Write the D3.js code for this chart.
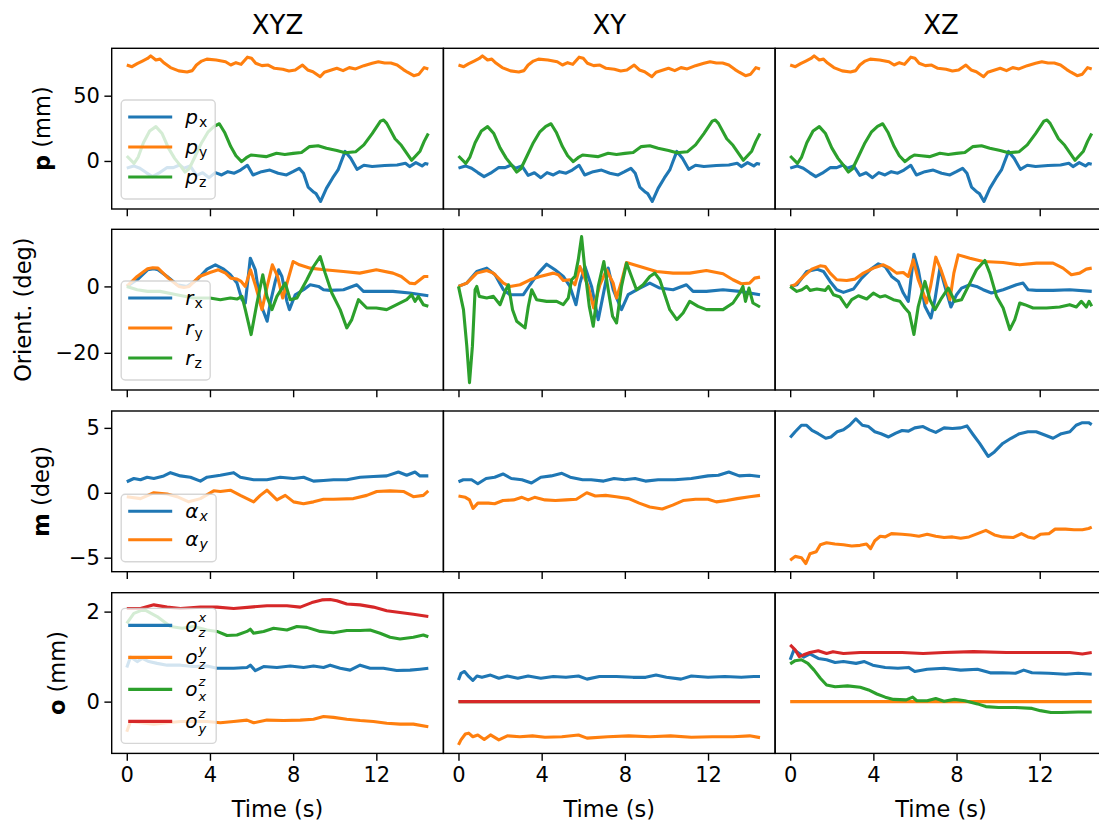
<!DOCTYPE html>
<html>
<head>
<meta charset="utf-8">
<script src="https://cdn.jsdelivr.net/npm/d3@7"></script>
<style>
  body { margin: 0; background: #fff; }
  svg { display: block; }
  text { font-family: "DejaVu Sans", sans-serif; fill: #000; }
</style>
</head>
<body>
<svg id="fig" width="1099" height="825"></svg>
<script>
// ---------- column / axis settings ----------
const columnTitles = ["XYZ", "XY", "XZ"];
const timeTicks = [0, 4, 8, 12];
const timeDomain = [-0.725, 15.225];
const rowDomains = [[-36.8, 86.3], [-31.2, 17.2], [-6.08, 6.3], [-1.15, 2.42]];
const rowTicks = [[0, 50], [-20, 0], [-5, 0, 5], [0, 2]];
const palette = ["#1f77b4", "#ff7f0e", "#2ca02c", "#d62728"];

// ---------- position p (mm), same trajectory in every column ----------
const posX = [[0,-5.5],[0.33,-3.8],[0.63,-5.6],[0.93,-8.9],[1.23,-12],[1.54,-9.4],[1.94,-5],[2.24,-5.1],[2.54,-3.1],[2.75,-5.6],[3.05,-3.8],[3.35,-11],[3.65,-9],[3.96,-12.8],[4.26,-8.9],[4.56,-10.7],[4.86,-8.2],[5.17,-9.4],[5.47,-7],[5.8,-3.3],[6.07,-10.7],[6.48,-8.2],[6.88,-7],[7.28,-9.4],[7.68,-10.7],[7.99,-8.2],[8.29,-5.6],[8.5,-9.5],[8.72,-20],[9.0,-24],[9.1,-25],[9.32,-31],[9.6,-21],[9.9,-13],[10.16,-6.9],[10.3,-1],[10.5,7.3],[10.77,2],[11.07,-6.4],[11.4,-3.3],[11.8,-4.3],[12.4,-3.5],[13.0,-3.1],[13.4,-1.8],[13.6,-4.3],[13.9,-1.3],[14.2,-3.8],[14.35,-2],[14.5,-2.6]];
const posY = [[0,73.5],[0.25,72.2],[0.5,74.5],[0.75,76.5],[1.0,78.5],[1.15,80.5],[1.4,77.3],[1.6,78],[1.8,75],[2.1,71.5],[2.5,69],[2.9,68.2],[3.15,69.2],[3.35,73.5],[3.6,76.5],[3.85,78],[4.3,77.3],[4.75,76],[5.0,73.5],[5.25,75.3],[5.5,74],[5.8,79.5],[6.0,78.6],[6.2,74.8],[6.5,73],[6.8,73.5],[7.1,71],[7.5,70.2],[7.8,68.9],[8.1,69.7],[8.45,73.5],[8.7,69.7],[8.95,68.4],[9.3,64.5],[9.5,68],[9.8,69.5],[10.1,71],[10.4,69.2],[10.7,71.5],[11.0,70.5],[11.4,73],[11.8,74.8],[12.1,76],[12.4,75],[12.7,75],[13.0,73.5],[13.3,70],[13.5,68],[13.8,65.3],[14.05,66.5],[14.3,71.5],[14.5,70.5]];
const posZ = [[0,3.8],[0.35,-1.8],[0.55,3],[0.8,14],[1.1,23],[1.4,26.3],[1.7,21],[2.0,10],[2.3,2],[2.55,-3],[2.8,-8.5],[3.0,-6],[3.3,4],[3.6,14],[3.9,22],[4.2,26.5],[4.45,28.5],[4.7,22],[5.0,11],[5.25,4],[5.52,-0.5],[5.75,2.5],[5.97,4.6],[6.3,4],[6.7,3.3],[7.2,5.9],[7.6,5],[8.0,5.8],[8.4,6.5],[8.79,11],[9.2,11.7],[9.6,9.7],[10.1,8],[10.5,6.3],[11.0,7],[11.4,12.3],[11.8,21],[12.2,30.5],[12.35,31.4],[12.5,28.8],[12.9,17],[13.2,12],[13.7,0.5],[14.1,7.5],[14.3,15],[14.5,21]];

// ---------- orientation (deg) ----------
const rotX_xyz = [[0,0],[0.5,2],[1.0,5],[1.3,5.3],[1.5,5],[1.94,3],[2.42,0.5],[2.9,0],[3.38,2],[3.86,5.2],[4.26,6.5],[4.66,5.2],[4.98,3.5],[5.3,1],[5.54,-4],[5.7,-5],[5.94,8.5],[6.18,5],[6.42,-5],[6.75,-10.5],[6.9,-5],[7.14,1.5],[7.3,5],[7.46,3],[7.7,-4.5],[7.82,-7],[8.1,-2.5],[8.5,-1],[8.82,0.5],[9.22,0],[9.46,-1],[9.78,-1.2],[10.42,-1],[11.06,0.5],[11.38,-1.5],[12.0,-1.5],[12.8,-1.5],[13.6,-2],[14.5,-2.8]];
const rotY_xyz = [[0,0],[0.5,3],[1.0,5.3],[1.25,5.6],[1.5,5.5],[2.0,2.5],[2.5,0],[2.75,-0.3],[3.0,0],[3.5,3],[4.0,4.2],[4.4,5],[4.75,4],[5.0,2.5],[5.3,2.2],[5.5,1.5],[5.7,0],[5.95,5],[6.2,0],[6.5,-7],[6.75,0],[7.0,6.5],[7.25,3],[7.5,-3.5],[7.75,2],[8.0,7.5],[8.3,6.5],[8.82,5.5],[9.5,5],[10.42,4.5],[11.2,4],[12.0,5],[12.8,4],[13.2,3],[13.6,1],[13.85,0.8],[14.1,2],[14.3,3],[14.5,3]];
const rotZ_xyz = [[0,0],[0.5,-1],[1.0,-1.5],[1.6,-1.5],[2.4,-2.5],[3.2,-3.5],[4.0,-3.5],[4.5,-4],[4.98,-3.5],[5.3,-3.8],[5.54,-3],[5.7,-7],[5.98,-14.5],[6.26,-5],[6.54,3.5],[6.74,-3],[6.98,-7],[7.22,-3],[7.62,1],[7.86,-4],[8.18,-3.5],[8.66,2],[8.98,6],[9.3,9],[9.54,4],[9.86,-2],[10.26,-7],[10.58,-12.5],[10.82,-10],[11.14,-4],[11.54,-6.5],[12.0,-6.5],[12.5,-7],[12.98,-5.5],[13.46,-4],[13.7,-2.5],[13.86,-4.5],[14.02,-3],[14.26,-5.5],[14.5,-6]];

const rotX_xy = [[0,0],[0.4,1],[0.88,4.5],[1.36,5.5],[1.76,3.5],[2.16,-1],[2.48,-2.5],[3.12,-2.5],[3.44,0.5],[3.84,4],[4.24,6.7],[4.64,5],[5.04,3],[5.36,0],[5.65,-5.5],[5.84,1],[6.08,6],[6.4,0],[6.72,-10],[7.04,0],[7.2,5.5],[7.44,-1],[7.84,-7],[8.16,-2.5],[8.72,-0.5],[9.2,1],[9.68,-0.5],[10.32,-1],[10.96,0.5],[11.28,-1.5],[11.92,-1.5],[12.72,-1],[13.52,-1.5],[14.5,-2.5]];
const rotY_xy = [[0,0],[0.4,1],[0.88,4],[1.36,4.8],[1.68,4],[2.16,1],[2.48,0],[2.96,0.5],[3.44,2],[3.92,3],[4.56,4],[4.8,3.5],[5.04,1.8],[5.36,2],[5.6,0.5],[5.84,6],[6.24,0],[6.5,-6.5],[6.8,0.5],[7.12,5],[7.44,1],[7.6,-3.5],[7.84,1.5],[8.08,7.2],[8.72,6],[9.52,4.5],[10.32,4],[11.12,4],[11.92,4.8],[12.72,3.8],[13.2,2],[13.6,0.8],[14.0,1],[14.24,2.5],[14.5,2.8]];
const rotZ_xy = [[0,0],[0.24,-7],[0.4,-18],[0.53,-29],[0.67,-18],[0.8,-1],[0.88,0],[1.0,-3],[1.36,-3.5],[1.68,-3],[2.0,-5.5],[2.24,-1.5],[2.4,0.5],[2.6,-7],[2.8,-10.5],[3.2,-12.5],[3.36,-6],[3.52,-1],[3.76,-4],[4.24,-4.5],[4.72,-4.5],[5.04,-5.5],[5.28,-3.5],[5.44,2],[5.6,3],[5.76,8],[5.92,15],[6.08,5],[6.29,-6],[6.48,-12],[6.72,0],[6.99,7.5],[7.2,-1],[7.41,-9],[7.6,-11],[7.84,0],[8.08,7],[8.32,3],[8.56,-1],[8.88,0.5],[9.2,3],[9.44,4],[9.68,2],[10.16,-7],[10.5,-10],[10.8,-8],[11.12,-4.5],[11.52,-6],[11.92,-7],[12.72,-7],[13.2,-5],[13.52,-2],[13.68,0],[13.8,-4.5],[13.97,-0.5],[14.16,-5],[14.5,-6.2]];

const rotX_xz = [[0,0],[0.32,0.5],[0.8,4.5],[1.28,5.2],[1.6,4.5],[1.92,1.5],[2.24,-1],[2.56,-1.8],[3.04,-0.8],[3.44,2.5],[3.84,5],[4.24,6.8],[4.56,6],[4.88,3],[5.2,1.5],[5.44,-2],[5.68,-4.5],[5.95,9.7],[6.16,5],[6.48,-6],[6.77,-9.5],[6.96,-4],[7.2,5.5],[7.44,0],[7.73,-6.2],[8.0,-2.5],[8.24,-0.5],[8.64,0.5],[8.96,0],[9.28,-1],[9.68,-2],[10.24,-1],[10.88,0.5],[11.2,1],[11.44,-1],[11.84,-1.2],[12.64,-1.2],[13.44,-1],[14.5,-1.5]];
const rotY_xz = [[0,0],[0.24,0.5],[0.64,3],[1.04,5.2],[1.44,6.2],[1.68,6],[1.92,4],[2.24,2],[2.72,1.8],[3.12,2.2],[3.52,4],[4.0,5.5],[4.48,6.5],[4.8,5.5],[5.12,4],[5.44,4.2],[5.68,3],[5.92,8],[6.16,2],[6.4,-2],[6.56,-5],[6.75,0],[7.0,8.8],[7.25,5],[7.52,0],[7.68,-4],[7.87,4],[8.08,9.5],[8.64,8.5],[9.28,7.5],[10.24,7.2],[11.04,6.5],[11.84,7],[12.64,7],[13.12,5.5],[13.52,3.5],[13.92,4],[14.24,5.2],[14.5,5.5]];
const rotZ_xz = [[0,0],[0.32,-1.5],[0.56,-1],[0.8,0],[0.96,-1.2],[1.28,-0.8],[1.68,-1.2],[1.84,0],[2.08,-2.5],[2.4,-3.2],[2.72,-6.2],[2.96,-4],[3.28,-2.8],[3.68,-3.8],[4.0,-2],[4.32,-3.2],[4.56,-2.8],[4.96,-4],[5.28,-4.5],[5.52,-6.5],[5.73,-8],[5.95,-14.5],[6.16,-6],[6.48,1.5],[6.72,-4],[6.96,-7],[7.28,-3.5],[7.6,-0.5],[7.92,-4.5],[8.24,-4],[8.64,1],[8.96,5],[9.36,7.8],[9.6,4],[9.92,-3],[10.24,-6.5],[10.56,-13],[10.8,-10],[11.04,-5],[11.28,-5.5],[11.68,-6.5],[12.32,-6.5],[12.96,-6.2],[13.44,-5.5],[13.76,-6.2],[14.0,-4.5],[14.24,-6.2],[14.37,-4.5],[14.5,-6]];

// ---------- misalignment m (deg) ----------
const alphaX_xyz = [[0,0.85],[0.34,1.1],[0.66,1.0],[0.98,1.2],[1.3,1.1],[1.78,1.3],[2.1,1.55],[2.58,1.3],[3.06,1.2],[3.54,0.9],[3.86,1.2],[4.5,1.35],[5.14,1.55],[5.46,1.2],[6.1,1.0],[6.74,1.0],[7.38,1.2],[8.02,1.1],[8.5,1.2],[8.98,0.9],[9.46,0.95],[9.94,1.0],[10.58,1.0],[11.22,1.2],[11.86,1.25],[12.5,1.3],[13.06,1.6],[13.46,1.35],[13.86,1.6],[14.1,1.3],[14.5,1.3]];
const alphaY_xyz = [[0,-0.3],[0.66,-0.45],[1.3,0],[1.94,-0.1],[2.42,-0.3],[2.98,-0.7],[3.54,-0.45],[4.18,0.15],[4.5,0.1],[4.98,0.2],[5.46,-0.2],[6.1,-0.7],[6.42,-0.2],[6.74,0.2],[7.22,-0.55],[7.62,-0.2],[8.02,-0.7],[8.5,-0.85],[8.98,-0.7],[9.46,-0.5],[9.94,-0.5],[10.9,-0.45],[11.54,-0.2],[12.02,0.1],[12.66,0.15],[13.3,0.1],[13.78,-0.3],[14.26,-0.2],[14.5,0.15]];
const alphaX_xy = [[0,0.85],[0.23,1.0],[0.63,1.0],[0.93,0.7],[1.33,1.1],[1.74,1.2],[2.14,1.45],[2.54,1.1],[3.05,1.0],[3.51,0.75],[3.96,1.2],[4.46,1.3],[4.97,1.5],[5.37,1.2],[5.97,1.0],[6.38,1.0],[6.98,0.9],[7.48,1.1],[7.99,1.0],[8.49,1.1],[8.99,0.9],[9.6,1.0],[10.4,1.0],[11.2,1.1],[12.0,1.3],[12.5,1.35],[13.0,1.6],[13.5,1.3],[14.0,1.35],[14.5,1.25]];
const alphaY_xy = [[0,-0.25],[0.33,-0.35],[0.53,-0.55],[0.7,-1.2],[0.93,-0.8],[1.44,-0.8],[1.74,-0.85],[2.14,-0.6],[2.65,-0.55],[3.05,-0.35],[3.35,-0.55],[3.66,-0.35],[4.16,-0.55],[4.66,-0.6],[5.17,-0.55],[5.67,-0.5],[6.17,0],[6.58,-0.25],[7.08,-0.2],[7.59,-0.3],[8.19,-0.45],[8.69,-0.8],[9.2,-1.1],[9.8,-1.25],[10.3,-0.95],[10.8,-0.6],[11.4,-0.5],[12.0,-0.5],[12.4,-0.7],[12.9,-0.6],[13.4,-0.45],[14.0,-0.3],[14.5,-0.2]];
const alphaX_xz = [[0,4.25],[0.24,4.7],[0.54,5.2],[0.79,5.2],[1.05,4.8],[1.35,4.55],[1.71,4.2],[1.96,4.3],[2.26,4.7],[2.56,4.85],[2.86,5.2],[3.16,5.7],[3.47,5.2],[3.77,5.1],[4.07,4.7],[4.37,4.55],[4.73,4.3],[5.08,4.6],[5.38,4.8],[5.69,4.75],[5.99,5.0],[6.39,5.1],[6.7,4.85],[7.0,4.65],[7.4,5.0],[7.8,4.95],[8.2,5.0],[8.5,5.15],[8.81,4.45],[9.11,3.8],[9.52,2.8],[9.82,3.15],[10.22,3.8],[10.62,4.2],[11.03,4.55],[11.43,4.7],[11.83,4.7],[12.24,4.45],[12.64,4.2],[13.04,4.55],[13.45,4.7],[13.75,5.2],[14.05,5.4],[14.35,5.4],[14.5,5.25]];
const alphaY_xz = [[0,-5.2],[0.24,-4.9],[0.54,-5.0],[0.75,-5.45],[0.95,-4.7],[1.25,-4.55],[1.45,-4.0],[1.75,-3.85],[2.15,-3.95],[2.56,-4.0],[2.96,-4.1],[3.36,-4.05],[3.67,-3.95],[3.87,-4.3],[4.07,-3.7],[4.33,-3.35],[4.57,-3.4],[4.87,-3.15],[5.38,-3.2],[5.79,-3.25],[6.19,-3.35],[6.59,-3.2],[7.0,-3.35],[7.4,-3.45],[7.8,-3.4],[8.2,-3.5],[8.6,-3.4],[9.01,-3.15],[9.41,-2.9],[9.82,-3.25],[10.22,-3.4],[10.72,-3.45],[11.12,-3.15],[11.43,-3.4],[11.73,-3.5],[12.03,-3.2],[12.44,-3.15],[12.74,-2.8],[13.24,-2.8],[13.65,-2.85],[14.05,-2.85],[14.35,-2.75],[14.5,-2.65]];

// ---------- offsets o (mm) ----------
const offZX_xyz = [[0,0.76],[0.18,0.99],[0.5,0.89],[0.74,0.96],[1.06,0.89],[1.46,0.85],[1.94,0.81],[2.58,0.81],[3.22,0.78],[3.86,0.79],[4.34,0.74],[5.14,0.74],[5.78,0.76],[5.94,0.81],[6.18,0.69],[6.58,0.78],[7.22,0.76],[7.86,0.79],[8.5,0.76],[8.98,0.79],[9.46,0.76],[9.78,0.81],[10.26,0.74],[10.74,0.7],[11.22,0.81],[11.7,0.74],[12.34,0.74],[12.98,0.69],[13.62,0.7],[14.1,0.72],[14.5,0.74]];
const offZY_xyz = [[0,-0.67],[0.18,-0.44],[0.66,-0.47],[1.3,-0.5],[1.94,-0.47],[2.58,-0.44],[3.22,-0.44],[3.86,-0.44],[4.5,-0.47],[5.14,-0.44],[5.78,-0.41],[6.1,-0.47],[6.74,-0.41],[7.54,-0.42],[8.34,-0.41],[8.98,-0.39],[9.46,-0.33],[9.94,-0.35],[10.58,-0.39],[11.22,-0.42],[11.86,-0.44],[12.5,-0.48],[13.14,-0.5],[13.78,-0.5],[14.5,-0.56]];
const offXZ_xyz = [[0,1.74],[0.34,1.96],[0.82,2.05],[1.46,1.89],[2.1,1.67],[2.66,1.63],[3.22,1.67],[3.86,1.59],[4.34,1.56],[4.82,1.47],[5.3,1.48],[5.78,1.56],[5.94,1.61],[6.1,1.52],[6.58,1.56],[7.06,1.63],[7.7,1.59],[8.18,1.67],[8.66,1.65],[9.3,1.56],[9.94,1.53],[10.58,1.58],[11.22,1.58],[11.7,1.59],[12.18,1.52],[12.66,1.43],[13.14,1.39],[13.78,1.43],[14.26,1.48],[14.5,1.44]];
const offYZ_xyz = [[0,2.07],[0.66,2.07],[1.3,2.15],[1.94,2.1],[2.58,2.07],[3.54,2.1],[4.34,2.1],[5.14,2.07],[5.94,2.1],[6.74,2.13],[7.7,2.13],[8.34,2.1],[8.9,2.2],[9.38,2.26],[9.78,2.27],[10.1,2.24],[10.58,2.17],[11.22,2.15],[11.86,2.1],[12.5,2.02],[13.14,1.98],[13.78,1.94],[14.5,1.89]];

const offZX_xy = [[0,0.48],[0.12,0.63],[0.29,0.67],[0.49,0.56],[0.69,0.47],[0.89,0.57],[1.13,0.54],[1.54,0.59],[1.94,0.52],[2.35,0.57],[2.85,0.52],[3.35,0.57],[3.96,0.52],[4.56,0.56],[5.17,0.54],[5.77,0.57],[6.18,0.5],[6.78,0.56],[7.59,0.56],[8.39,0.54],[9.0,0.54],[9.5,0.59],[10.0,0.54],[10.7,0.5],[11.2,0.57],[12.0,0.54],[12.8,0.56],[13.6,0.54],[14.2,0.56],[14.5,0.56]];
const offZY_xy = [[0,-0.96],[0.12,-0.85],[0.33,-0.72],[0.49,-0.7],[0.69,-0.78],[0.93,-0.74],[1.24,-0.84],[1.54,-0.74],[1.94,-0.85],[2.35,-0.76],[2.95,-0.78],[3.56,-0.76],[4.16,-0.79],[4.97,-0.78],[5.77,-0.74],[6.18,-0.81],[7.18,-0.78],[8.19,-0.76],[9.2,-0.78],[10.2,-0.76],[11.2,-0.79],[12.2,-0.78],[13.2,-0.78],[14.0,-0.76],[14.5,-0.8]];
const offXZ_xy = [[0,0],[14.5,0]];
const offYZ_xy = [[0,0],[14.5,0]];

const offZX_xz = [[0,0.93],[0.18,1.15],[0.44,1.07],[0.65,0.99],[0.95,1.06],[1.35,0.96],[1.75,0.93],[2.16,0.87],[2.56,0.89],[3.17,0.85],[3.57,0.89],[3.97,0.81],[4.57,0.76],[5.18,0.74],[5.69,0.76],[5.99,0.67],[6.59,0.72],[7.4,0.74],[8.2,0.7],[9.01,0.72],[9.62,0.64],[10.22,0.64],[10.83,0.63],[11.23,0.7],[11.63,0.64],[12.44,0.63],[13.25,0.61],[13.85,0.63],[14.5,0.61]];
const offZY_xz = [[0,0],[14.5,0]];
const offXZ_xz = [[0,0.84],[0.24,0.91],[0.54,0.93],[0.85,0.85],[1.15,0.7],[1.45,0.52],[1.75,0.37],[2.16,0.33],[2.76,0.35],[3.37,0.32],[3.77,0.26],[4.17,0.17],[4.57,0.1],[4.97,0.05],[5.58,0.04],[5.89,0.1],[6.09,0.02],[6.59,0.02],[7.0,0.07],[7.4,0.01],[7.9,0.05],[8.4,0.02],[9.01,-0.05],[9.41,-0.11],[10.02,-0.13],[10.83,-0.13],[11.63,-0.15],[12.03,-0.2],[12.54,-0.24],[13.04,-0.24],[13.85,-0.23],[14.5,-0.23]];
const offYZ_xz = [[0,1.26],[0.24,1.15],[0.44,1.0],[0.65,1.04],[0.95,1.09],[1.35,1.13],[1.75,1.07],[2.06,1.11],[2.56,1.07],[3.37,1.09],[4.37,1.09],[5.38,1.09],[6.39,1.07],[7.4,1.09],[8.81,1.11],[10.4,1.09],[11.4,1.09],[12.4,1.09],[13.45,1.09],[14.05,1.06],[14.5,1.09]];

// ---------- labels ----------
const yLabelParts = [
  [{ t: "p", bold: true }, { t: " (mm)" }],
  [{ t: "Orient. (deg)" }],
  [{ t: "m", bold: true }, { t: " (deg)" }],
  [{ t: "o", bold: true }, { t: " (mm)" }]
];
const legendLabels = [
  [{ base: "p", sub: "x" }, { base: "p", sub: "y" }, { base: "p", sub: "z" }],
  [{ base: "r", sub: "x" }, { base: "r", sub: "y" }, { base: "r", sub: "z" }],
  [{ base: "α", sub: "x", subItalic: true }, { base: "α", sub: "y", subItalic: true }],
  [{ base: "o", sub: "z", sup: "x", subItalic: true }, { base: "o", sub: "z", sup: "y", subItalic: true },
   { base: "o", sub: "x", sup: "z", subItalic: true }, { base: "o", sub: "y", sup: "z", subItalic: true }]
];

// series grid: rows x columns x series
const grid = [
  [[posX, posY, posZ], [posX, posY, posZ], [posX, posY, posZ]],
  [[rotX_xyz, rotY_xyz, rotZ_xyz], [rotX_xy, rotY_xy, rotZ_xy], [rotX_xz, rotY_xz, rotZ_xz]],
  [[alphaX_xyz, alphaY_xyz], [alphaX_xy, alphaY_xy], [alphaX_xz, alphaY_xz]],
  [[offZX_xyz, offZY_xyz, offXZ_xyz, offYZ_xyz], [offZX_xy, offZY_xy, offXZ_xy, offYZ_xy],
   [offZX_xz, offZY_xz, offXZ_xz, offYZ_xz]]
];

// ---------- layout ----------
const svg = d3.select("#fig");
const left0 = 111.7, panelW = 331.7, panelH = 160.7;
const tops = [48.3, 229.3, 411, 592.7];
const tickLen = 7.3;
const tickFont = 21, labelFont = 22.5, titleFont = 26, legendFont = 20;
const yLabelX = [50, 30.5, 49, 65];
const legendWidth = [94, 89, 95, 95];
const legendStep = [30, 30, 28.5, 32];
const lineW = 3.1;

const x = d3.scaleLinear().domain(timeDomain).range([0, panelW]);

columnTitles.forEach((t, c) => {
  svg.append("text")
    .attr("x", left0 + panelW * c + panelW / 2).attr("y", 34.3)
    .attr("text-anchor", "middle").attr("font-size", titleFont).text(t);
});

const line = (y) => d3.line().x(d => x(d[0])).y(d => y(d[1]));

grid.forEach((rowSeries, r) => {
  const y = d3.scaleLinear().domain(rowDomains[r]).range([panelH, 0]);
  rowSeries.forEach((series, c) => {
    const g = svg.append("g").attr("transform", `translate(${left0 + panelW * c},${tops[r]})`);
    series.forEach((data, i) => {
      g.append("path").datum(data)
        .attr("d", line(y))
        .attr("fill", "none").attr("stroke", palette[i])
        .attr("stroke-width", lineW).attr("stroke-linejoin", "round");
    });
    // x ticks (labels on bottom row only)
    const xAxis = d3.axisBottom(x).tickValues(timeTicks).tickSize(tickLen).tickPadding(5)
      .tickFormat(r === 3 ? d3.format("d") : () => "");
    const ax = g.append("g").attr("transform", `translate(0,${panelH})`).call(xAxis);
    ax.select(".domain").remove();
    ax.selectAll(".tick line").attr("stroke", "#000").attr("stroke-width", 1.4);
    ax.selectAll(".tick text").attr("font-size", tickFont).attr("font-family", "DejaVu Sans")
      .attr("fill", "#000").attr("dy", "0.71em").attr("y", tickLen + 6);
    if (c === 0) {
      const yAxis = d3.axisLeft(y).tickValues(rowTicks[r]).tickSize(tickLen).tickPadding(4.5)
        .tickFormat(d => d < 0 ? "\u2212" + Math.abs(d) : String(d));
      const ay = g.append("g").call(yAxis);
      ay.select(".domain").remove();
      ay.selectAll(".tick line").attr("stroke", "#000").attr("stroke-width", 1.4);
      ay.selectAll(".tick text").attr("font-size", tickFont).attr("font-family", "DejaVu Sans").attr("fill", "#000");
    }
    g.append("rect").attr("width", panelW).attr("height", panelH)
      .attr("fill", "none").attr("stroke", "#000").attr("stroke-width", 1.4);
    if (r === 3) {
      svg.append("text")
        .attr("x", left0 + panelW * c + x(7.25)).attr("y", 817)
        .attr("text-anchor", "middle").attr("font-size", labelFont).text("Time (s)");
    }
  });

  // y label
  const yl = svg.append("text")
    .attr("transform", `translate(${yLabelX[r]},${tops[r] + panelH / 2}) rotate(-90)`)
    .attr("text-anchor", "middle").attr("font-size", labelFont);
  yLabelParts[r].forEach(p => yl.append("tspan").attr("font-weight", p.bold ? "bold" : "normal").text(p.t));

  // legend in the first column
  const n = legendLabels[r].length;
  const boxH = 17 + (n - 1) * legendStep[r] + 22;
  const boxX = left0 + 9.5, boxY = tops[r] + panelH - 10 - boxH;
  const lg = svg.append("g").attr("transform", `translate(${boxX},${boxY})`);
  lg.append("rect").attr("width", legendWidth[r]).attr("height", boxH).attr("rx", 4)
    .attr("fill", "#fff").attr("fill-opacity", 0.8)
    .attr("stroke", "#ccc").attr("stroke-opacity", 0.8).attr("stroke-width", 1.4);
  legendLabels[r].forEach((lab, i) => {
    const ly = 17 + i * legendStep[r];
    lg.append("line").attr("x1", 7).attr("x2", 51).attr("y1", ly).attr("y2", ly)
      .attr("stroke", palette[i]).attr("stroke-width", lineW);
    const txt = lg.append("text").attr("x", 64).attr("y", ly + 6.5).attr("font-size", legendFont);
    txt.append("tspan").attr("font-style", "italic").text(lab.base);
    if (lab.sup) {
      // stacked superscript and subscript
      const small = 13;
      const sup = txt.append("tspan").attr("dx", 1).attr("dy", -10)
        .attr("font-size", small).attr("font-style", "italic").text(lab.sup);
      const w = sup.node().getComputedTextLength();
      txt.append("tspan").attr("dx", -w).attr("dy", 15.3)
        .attr("font-size", small).attr("font-style", lab.subItalic ? "italic" : "normal").text(lab.sub);
    } else {
      txt.append("tspan").attr("dx", 1).attr("dy", 3)
        .attr("font-size", legendFont * 0.7).attr("font-style", lab.subItalic ? "italic" : "normal").text(lab.sub);
    }
  });
});
</script>
</body>
</html>
